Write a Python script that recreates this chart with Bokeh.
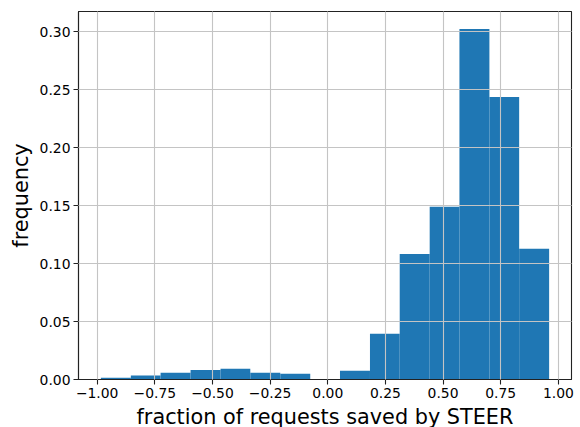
from bokeh.plotting import figure
from bokeh.models import Range1d, FixedTicker, ColumnDataSource
from bokeh.embed import file_html
from bokeh.resources import INLINE

# histogram bin edges
bin_edges = [-0.984, -0.854, -0.725, -0.595, -0.465, -0.336, -0.206, -0.076,
             0.053, 0.183, 0.312, 0.442, 0.571, 0.701, 0.830, 0.960]
# frequency per bin
frequency = [0.0015, 0.0034, 0.0058, 0.0083, 0.0092, 0.0058, 0.0049, 0.0,
             0.0075, 0.0394, 0.1083, 0.1489, 0.3023, 0.2437, 0.1127]

x_ticks = [-1.0, -0.75, -0.5, -0.25, 0.0, 0.25, 0.5, 0.75, 1.0]
x_tick_labels = ["\u22121.00", "\u22120.75", "\u22120.50", "\u22120.25", "0.00",
                 "0.25", "0.50", "0.75", "1.00"]
y_ticks = [0.0, 0.05, 0.10, 0.15, 0.20, 0.25, 0.30]
y_tick_labels = ["0.00", "0.05", "0.10", "0.15", "0.20", "0.25", "0.30"]

src = ColumnDataSource(dict(left=bin_edges[:-1], right=bin_edges[1:],
                            top=frequency, bottom=[0.0] * len(frequency)))

p = figure(frame_width=493, frame_height=368, output_backend="svg",
           toolbar_location=None,
           x_range=Range1d(-1.081, 1.057), y_range=Range1d(0, 0.3174),
           min_border_left=78, min_border_top=11, min_border_right=4,
           min_border_bottom=40)

p.quad(left="left", right="right", top="top", bottom="bottom", source=src,
       fill_color="#1f77b4", line_color=None)

FONT = "DejaVu Sans"
for ax in (p.xaxis[0], p.yaxis[0]):
    ax.axis_line_color = "#222222"
    ax.axis_line_width = 1.1
    ax.major_tick_line_color = "#222222"
    ax.major_tick_line_width = 1.1
    ax.major_tick_out = 5
    ax.major_tick_in = 0
    ax.minor_tick_line_color = None
    ax.major_label_text_font = FONT
    ax.major_label_text_font_size = "13.9px"
    ax.major_label_text_color = "black"
    ax.major_label_standoff = 3
    ax.axis_label_text_font = FONT
    ax.axis_label_text_font_size = "20.8px"
    ax.axis_label_text_font_style = "normal"
    ax.axis_label_text_color = "black"

p.xaxis[0].ticker = FixedTicker(ticks=x_ticks)
p.xaxis[0].major_label_overrides = {t: l for t, l in zip(x_ticks, x_tick_labels)}
p.yaxis[0].ticker = FixedTicker(ticks=y_ticks)
p.yaxis[0].major_label_overrides = {t: l for t, l in zip(y_ticks, y_tick_labels)}
p.xaxis[0].axis_label = "fraction of requests saved by STEER"
p.yaxis[0].axis_label = "frequency"
p.xaxis[0].axis_label_standoff = 4
p.yaxis[0].axis_label_standoff = 4

for g in (p.xgrid[0], p.ygrid[0]):
    g.grid_line_color = "#c4c4c4"
    g.grid_line_width = 1.1
    g.level = "overlay"

p.outline_line_color = "#222222"
p.outline_line_width = 1.1
p.background_fill_color = "white"
p.border_fill_color = "white"

open("out.html", "w").write(file_html(p, INLINE))
